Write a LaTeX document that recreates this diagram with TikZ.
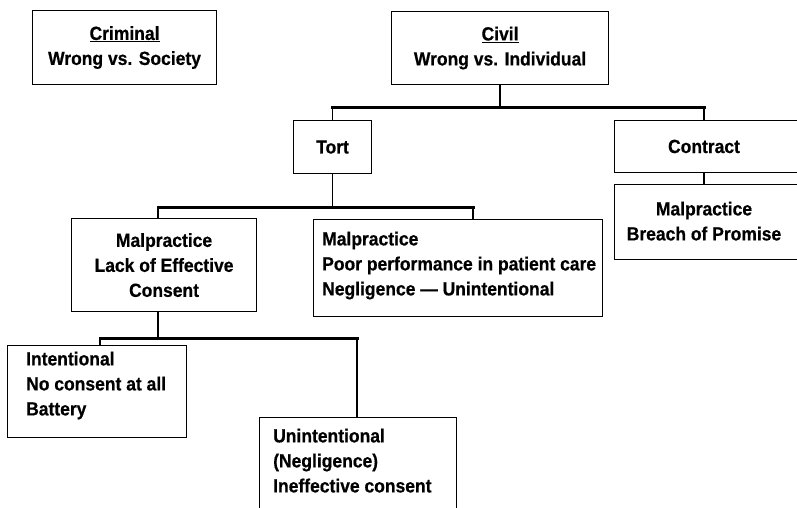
\documentclass[tikz,border=0pt]{standalone}
\usepackage{fontspec}
\setmainfont{Liberation Sans}[FakeStretch=0.92, BoldFeatures={FakeStretch=0.92, FakeBold=0.6}]
\newcommand\dfont{\fontsize{19}{25}\selectfont\bfseries}
\begin{document}
\begin{tikzpicture}[x=1pt,y=-1pt,
  every node/.style={font=\dfont},
  box/.style={draw, line width=1.1pt, inner sep=0pt, anchor=north west},
  lbl/.style={inner sep=0pt},
  bar/.style={line width=3pt, line cap=rect},
  stem/.style={line width=1.3pt}]
\useasboundingbox (0,0) rectangle (797,507);
\clip (0,0) rectangle (797,507);

% boxes
\node[box, minimum width=184pt, minimum height=74pt, align=center] (crim) at (32,10) {\underline{Criminal}\\Wrong vs. Society};
\node[box, minimum width=217pt, minimum height=73pt, align=center] (civil) at (391,11) {\underline{Civil}\\Wrong vs. Individual};
\node[box, minimum width=78pt, minimum height=53pt] (tort) at (293,120) {Tort};
\node[box, minimum width=201pt, minimum height=52pt] (contract) at (614,120) {};
\node[lbl, anchor=base] (contractT) at (704,153) {Contract};
\node[box, minimum width=201pt, minimum height=75pt] (breach) at (614,184) {};
\node[lbl, anchor=north, align=center] (breachT) at (704,201.4) {Malpractice\\Breach of Promise};
\node[box, minimum width=185pt, minimum height=93pt, align=center] (mlc) at (71,218) {Malpractice\\Lack of Effective\\Consent};
\node[box, minimum width=289pt, minimum height=97pt] (mneg) at (313,219) {};
\node[lbl, anchor=north west, align=left] (mnegT) at (322,231.4) {Malpractice\\Poor performance in patient care\\Negligence — Unintentional};
\node[box, minimum width=179pt, minimum height=92pt] (intent) at (7,345) {};
\node[lbl, anchor=north west, align=left] (intentT) at (26,351.4) {Intentional\\No consent at all\\Battery};
\node[box, minimum width=197pt, minimum height=120pt] (unint) at (259,417) {};
\node[lbl, anchor=north west, align=left] (unintT) at (273,428.4) {Unintentional\\(Negligence)\\Ineffective consent};

% junction levels
\coordinate (j1) at (0,107);
\coordinate (j2a) at (158,207);
\coordinate (j2b) at (473,207);
\coordinate (j3a) at (100,338);
\coordinate (j3b) at (357,338);

% top level
\draw[stem] (civil.south) -- (civil.south |- j1);
\draw[bar] (tort.north |- j1) -- (contractT.north |- j1);
\draw[stem] (tort.north |- j1) -- (tort.north);
\draw[stem] (contractT.north |- j1) -- (contractT.north |- contract.north);
\draw[stem] (contractT.north |- contract.south) -- (contractT.north |- breach.north);

% second level
\draw[stem] (tort.south) -- (tort.south |- j2a);
\draw[bar] (j2a) -- (j2b);
\draw[stem] (j2a) -- (j2a |- mlc.north);
\draw[stem] (j2b) -- (j2b |- mneg.north);

% third level
\draw[stem] (j2a |- mlc.south) -- (j2a |- j3a);
\draw[bar] (j3a) -- (j3b);
\draw[stem] (j3a) -- (j3a |- intent.north);
\draw[stem] (j3b) -- (j3b |- unint.north);
\end{tikzpicture}
\end{document}
